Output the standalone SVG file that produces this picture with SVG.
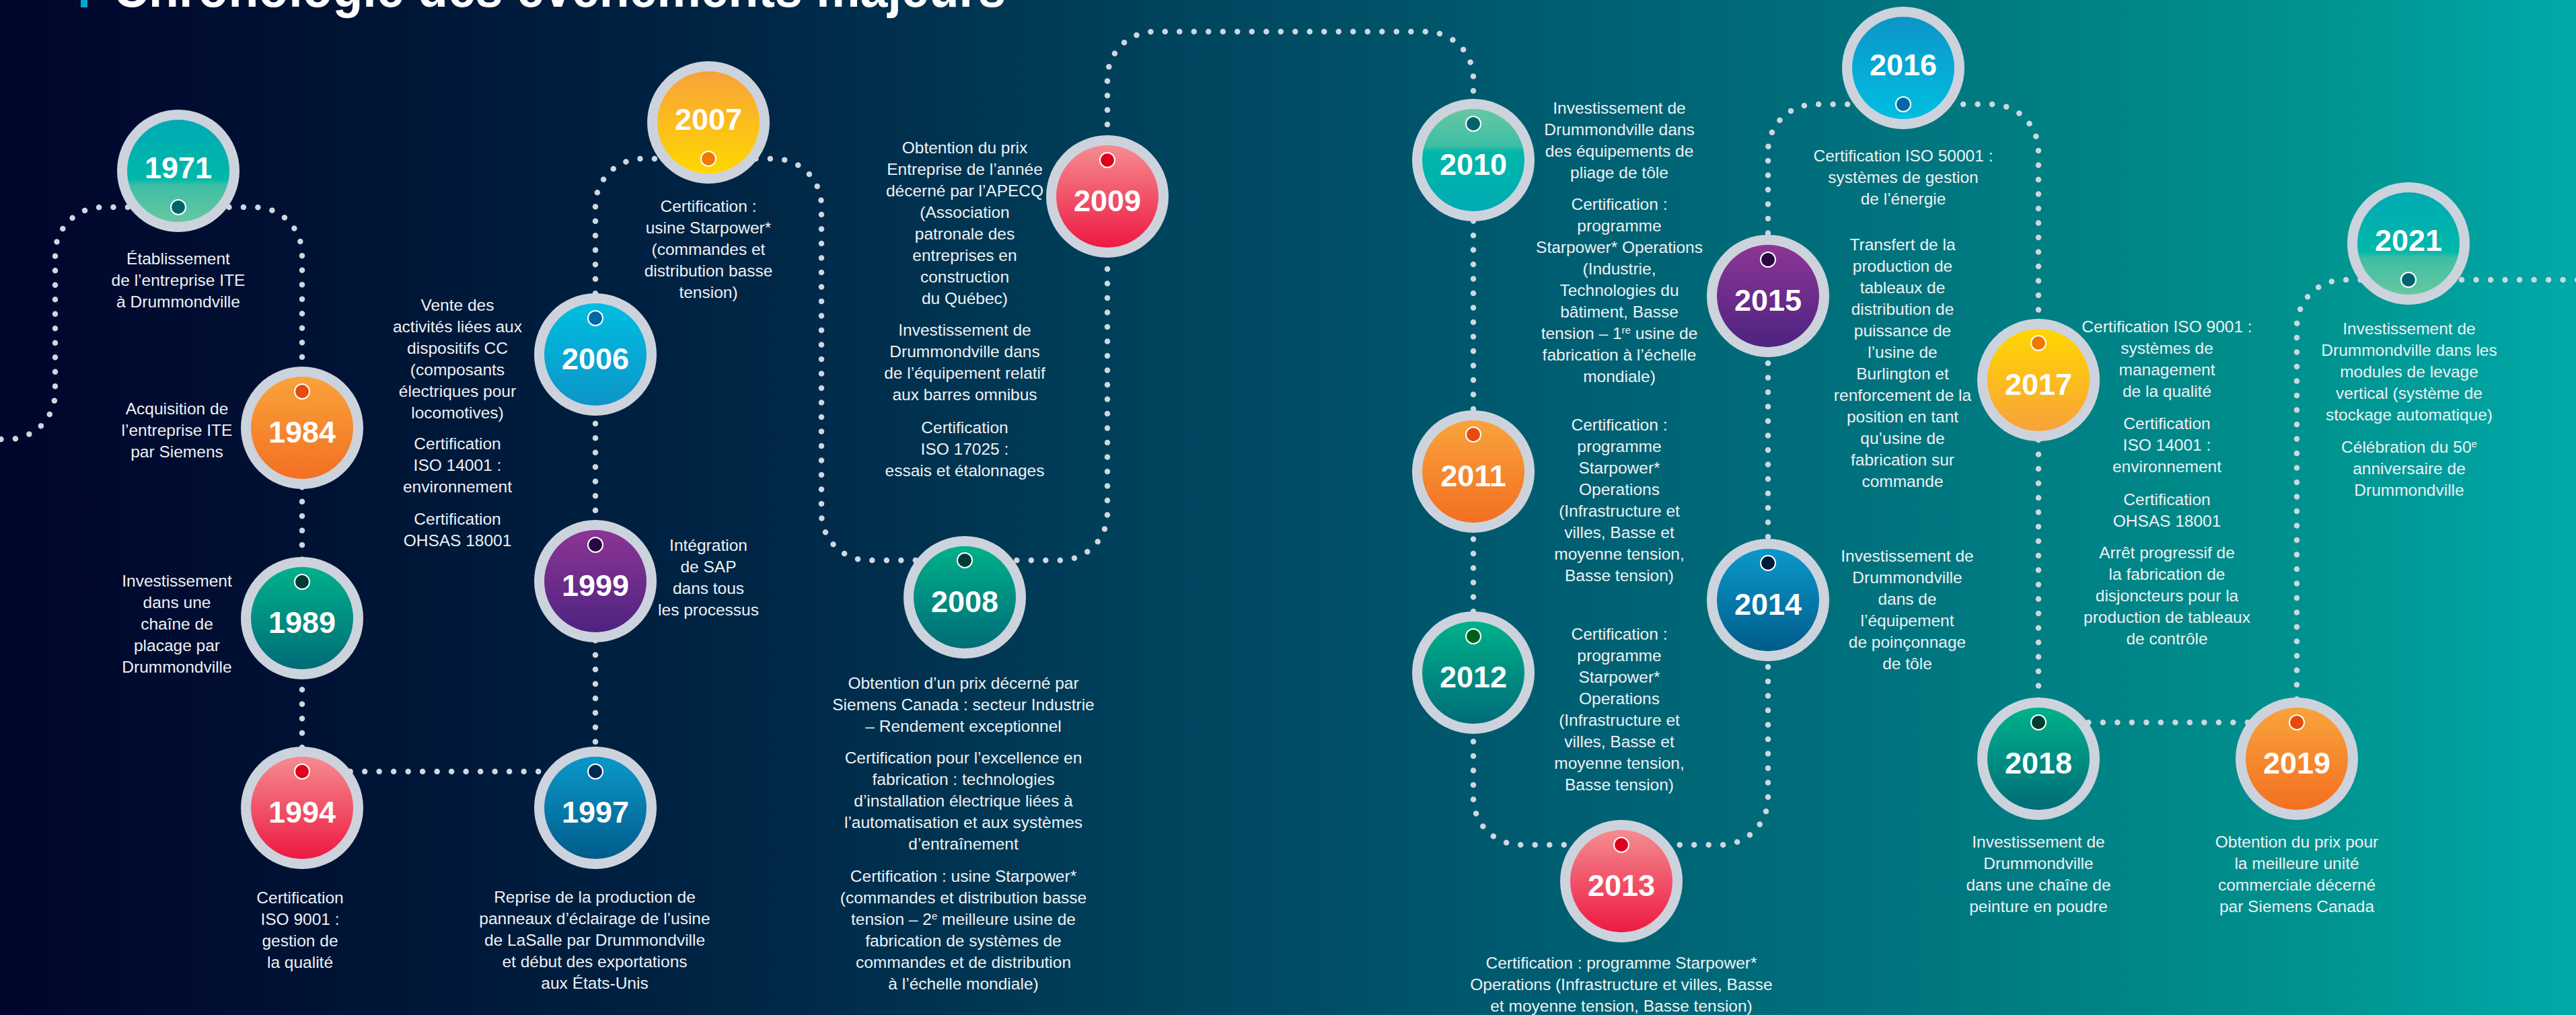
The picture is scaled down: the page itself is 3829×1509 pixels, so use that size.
<svg xmlns="http://www.w3.org/2000/svg" xmlns:xlink="http://www.w3.org/1999/xlink" width="3829" height="1509" viewBox="0 0 3829 1509">
  <defs>
    <linearGradient id="bg" x1="0" y1="0" x2="1" y2="0">
      <stop offset="0" stop-color="#00052b"/>
      <stop offset="0.15" stop-color="#001536"/>
      <stop offset="0.3" stop-color="#002747"/>
      <stop offset="0.45" stop-color="#00435d"/>
      <stop offset="0.6" stop-color="#005d71"/>
      <stop offset="0.75" stop-color="#00767f"/>
      <stop offset="0.9" stop-color="#00938f"/>
      <stop offset="1" stop-color="#00a9a9"/>
    </linearGradient>
    <!-- disc fills: offset 0 is the side carrying the marker dot -->
    <linearGradient id="gTeal" x1="0" y1="0" x2="0" y2="1">
      <stop offset="0" stop-color="#68c7a1"/>
      <stop offset="0.36" stop-color="#3dbea4"/>
      <stop offset="0.42" stop-color="#00b8a9"/>
      <stop offset="1" stop-color="#00aab4"/>
    </linearGradient>
    <linearGradient id="gTealR" xlink:href="#gTeal" x1="0" y1="1" x2="0" y2="0"/>
    <linearGradient id="gOrange" x1="0" y1="0" x2="0" y2="1">
      <stop offset="0" stop-color="#f9a33b"/>
      <stop offset="1" stop-color="#f36f22"/>
    </linearGradient>
    <linearGradient id="gGreen" x1="0" y1="0" x2="0" y2="1">
      <stop offset="0" stop-color="#00b18b"/>
      <stop offset="1" stop-color="#006c78"/>
    </linearGradient>
    <linearGradient id="gRed" x1="0" y1="0" x2="0" y2="1">
      <stop offset="0" stop-color="#f58c90"/>
      <stop offset="1" stop-color="#ed1942"/>
    </linearGradient>
    <linearGradient id="gBlue" x1="0" y1="0" x2="0" y2="1">
      <stop offset="0" stop-color="#0b98ca"/>
      <stop offset="1" stop-color="#005c8b"/>
    </linearGradient>
    <linearGradient id="gPurple" x1="0" y1="0" x2="0" y2="1">
      <stop offset="0" stop-color="#8d3595"/>
      <stop offset="1" stop-color="#4d2381"/>
    </linearGradient>
    <linearGradient id="gCyan" x1="0" y1="0" x2="0" y2="1">
      <stop offset="0" stop-color="#00bee1"/>
      <stop offset="1" stop-color="#0d95c8"/>
    </linearGradient>
    <linearGradient id="gCyanR" xlink:href="#gCyan" x1="0" y1="1" x2="0" y2="0"/>
    <linearGradient id="gYellow" x1="0" y1="0" x2="0" y2="1">
      <stop offset="0" stop-color="#ffd700"/>
      <stop offset="1" stop-color="#f8a23a"/>
    </linearGradient>
    <linearGradient id="gYellowR" xlink:href="#gYellow" x1="0" y1="1" x2="0" y2="0"/>
  </defs>
  <style>
    .ring { fill: #cdd3dd; }
    .mk { stroke: #ffffff; stroke-width: 2; }
    .yr { font-family: "Liberation Sans", Arial, sans-serif; font-weight: bold; font-size: 45px; fill: #ffffff; text-anchor: middle; }
    .lbl { font-family: "Liberation Sans", Arial, sans-serif; font-size: 24.5px; fill: #eef2f5; text-anchor: middle; }
    .sup { font-size: 15px; }
    .path { fill: none; stroke: #d0d6e0; stroke-width: 8.5; stroke-linecap: round; stroke-dasharray: 0 21.5; }
    .title { font-family: "Liberation Sans", Arial, sans-serif; font-weight: bold; font-size: 80px; fill: #ffffff; }
  </style>

  <rect x="0" y="0" width="3829" height="1509" fill="url(#bg)"/>

  <!-- heading -->
  <rect x="120" y="-40" width="10" height="51" fill="#00a9d4"/>
  <text class="title" x="168" y="10" textLength="1327" lengthAdjust="spacingAndGlyphs">Chronologie des événements majeurs</text>

  <!-- dotted timeline through every marker dot -->
  <g id="connectors">
    <path class="path" d="M -20 653 H 12 A 70 70 0 0 0 82 583 V 378 A 70 70 0 0 1 152 308 H 379 A 70 70 0 0 1 449 378 V 1147 H 885 V 306 A 70 70 0 0 1 955 236 H 1151 A 70 70 0 0 1 1221 306 V 763 A 70 70 0 0 0 1291 833 H 1576 A 70 70 0 0 0 1646 763 V 117 A 70 70 0 0 1 1716 47 H 2120 A 70 70 0 0 1 2190 117 V 1186 A 70 70 0 0 0 2260 1256 H 2558 A 70 70 0 0 0 2628 1186 V 225 A 70 70 0 0 1 2698 155 H 2960 A 70 70 0 0 1 3030 225 V 1074 H 3414 V 486 A 70 70 0 0 1 3484 416 H 3850"/>
  </g>

  <g id="n1971">
    <circle class="ring" cx="265" cy="254" r="91"/>
    <circle cx="265" cy="254" r="76" fill="url(#gTealR)"/>
    <circle class="mk" cx="265" cy="308" r="11" fill="#00636c"/>
    <text class="yr" x="265" y="265">1971</text>
    <text class="lbl"><tspan x="265" y="393">Établissement</tspan><tspan x="265" y="425">de l’entreprise ITE</tspan><tspan x="265" y="457">à Drummondville</tspan></text>
  </g>

  <g id="n1984">
    <circle class="ring" cx="449" cy="636" r="91"/>
    <circle cx="449" cy="636" r="76" fill="url(#gOrange)"/>
    <circle class="mk" cx="449" cy="582" r="11" fill="#e84a0c"/>
    <text class="yr" x="449" y="658">1984</text>
    <text class="lbl"><tspan x="263" y="616">Acquisition de</tspan><tspan x="263" y="648">l’entreprise ITE</tspan><tspan x="263" y="680">par Siemens</tspan></text>
  </g>

  <g id="n1989">
    <circle class="ring" cx="449" cy="919" r="91"/>
    <circle cx="449" cy="919" r="76" fill="url(#gGreen)"/>
    <circle class="mk" cx="449" cy="865" r="11" fill="#003c34"/>
    <text class="yr" x="449" y="941">1989</text>
    <text class="lbl"><tspan x="263" y="872">Investissement</tspan><tspan x="263" y="904">dans une</tspan><tspan x="263" y="936">chaîne de</tspan><tspan x="263" y="968">placage par</tspan><tspan x="263" y="1000">Drummondville</tspan></text>
  </g>

  <g id="n1994">
    <circle class="ring" cx="449" cy="1201" r="91"/>
    <circle cx="449" cy="1201" r="76" fill="url(#gRed)"/>
    <circle class="mk" cx="449" cy="1147" r="11" fill="#e0001b"/>
    <text class="yr" x="449" y="1223">1994</text>
    <text class="lbl"><tspan x="446" y="1343">Certification</tspan><tspan x="446" y="1375">ISO 9001 :</tspan><tspan x="446" y="1407">gestion de</tspan><tspan x="446" y="1439">la qualité</tspan></text>
  </g>

  <g id="n1997">
    <circle class="ring" cx="885" cy="1201" r="91"/>
    <circle cx="885" cy="1201" r="76" fill="url(#gBlue)"/>
    <circle class="mk" cx="885" cy="1147" r="11" fill="#002a56"/>
    <text class="yr" x="885" y="1223">1997</text>
    <text class="lbl"><tspan x="884" y="1342">Reprise de la production de</tspan><tspan x="884" y="1374">panneaux d’éclairage de l’usine</tspan><tspan x="884" y="1406">de LaSalle par Drummondville</tspan><tspan x="884" y="1438">et début des exportations</tspan><tspan x="884" y="1470">aux États-Unis</tspan></text>
  </g>

  <g id="n1999">
    <circle class="ring" cx="885" cy="864" r="91"/>
    <circle cx="885" cy="864" r="76" fill="url(#gPurple)"/>
    <circle class="mk" cx="885" cy="810" r="11" fill="#2a0743"/>
    <text class="yr" x="885" y="886">1999</text>
    <text class="lbl"><tspan x="1053" y="819">Intégration</tspan><tspan x="1053" y="851">de SAP</tspan><tspan x="1053" y="883">dans tous</tspan><tspan x="1053" y="915">les processus</tspan></text>
  </g>

  <g id="n2006">
    <circle class="ring" cx="885" cy="527" r="91"/>
    <circle cx="885" cy="527" r="76" fill="url(#gCyan)"/>
    <circle class="mk" cx="885" cy="473" r="11" fill="#0068a8"/>
    <text class="yr" x="885" y="549">2006</text>
    <text class="lbl"><tspan x="680" y="462">Vente des</tspan><tspan x="680" y="494">activités liées aux</tspan><tspan x="680" y="526">dispositifs CC</tspan><tspan x="680" y="558">(composants</tspan><tspan x="680" y="590">électriques pour</tspan><tspan x="680" y="622">locomotives)</tspan><tspan x="680" y="668">Certification</tspan><tspan x="680" y="700">ISO 14001 :</tspan><tspan x="680" y="732">environnement</tspan><tspan x="680" y="780">Certification</tspan><tspan x="680" y="812">OHSAS 18001</tspan></text>
  </g>

  <g id="n2007">
    <circle class="ring" cx="1053" cy="182" r="91"/>
    <circle cx="1053" cy="182" r="76" fill="url(#gYellowR)"/>
    <circle class="mk" cx="1053" cy="236" r="11" fill="#f07800"/>
    <text class="yr" x="1053" y="193">2007</text>
    <text class="lbl"><tspan x="1053" y="315">Certification :</tspan><tspan x="1053" y="347">usine Starpower*</tspan><tspan x="1053" y="379">(commandes et</tspan><tspan x="1053" y="411">distribution basse</tspan><tspan x="1053" y="443">tension)</tspan></text>
  </g>

  <g id="n2008">
    <circle class="ring" cx="1434" cy="888" r="91"/>
    <circle cx="1434" cy="888" r="76" fill="url(#gGreen)"/>
    <circle class="mk" cx="1434" cy="833" r="11" fill="#003c34"/>
    <text class="yr" x="1434" y="910">2008</text>
    <text class="lbl"><tspan x="1432" y="1024">Obtention d’un prix décerné par</tspan><tspan x="1432" y="1056">Siemens Canada : secteur Industrie</tspan><tspan x="1432" y="1088">– Rendement exceptionnel</tspan><tspan x="1432" y="1135">Certification pour l’excellence en</tspan><tspan x="1432" y="1167">fabrication : technologies</tspan><tspan x="1432" y="1199">d’installation électrique liées à</tspan><tspan x="1432" y="1231">l’automatisation et aux systèmes</tspan><tspan x="1432" y="1263">d’entraînement</tspan><tspan x="1432" y="1311">Certification : usine Starpower*</tspan><tspan x="1432" y="1343">(commandes et distribution basse</tspan><tspan x="1432" y="1375">tension – 2<tspan class="sup" baseline-shift="super">e</tspan> meilleure usine de</tspan><tspan x="1432" y="1407">fabrication de systèmes de</tspan><tspan x="1432" y="1439">commandes et de distribution</tspan><tspan x="1432" y="1471">à l’échelle mondiale)</tspan></text>
  </g>

  <g id="n2009">
    <circle class="ring" cx="1646" cy="292" r="91"/>
    <circle cx="1646" cy="292" r="76" fill="url(#gRed)"/>
    <circle class="mk" cx="1646" cy="238" r="11" fill="#e0001b"/>
    <text class="yr" x="1646" y="314">2009</text>
    <text class="lbl"><tspan x="1434" y="228">Obtention du prix</tspan><tspan x="1434" y="260">Entreprise de l’année</tspan><tspan x="1434" y="292">décerné par l’APECQ</tspan><tspan x="1434" y="324">(Association</tspan><tspan x="1434" y="356">patronale des</tspan><tspan x="1434" y="388">entreprises en</tspan><tspan x="1434" y="420">construction</tspan><tspan x="1434" y="452">du Québec)</tspan><tspan x="1434" y="499">Investissement de</tspan><tspan x="1434" y="531">Drummondville dans</tspan><tspan x="1434" y="563">de l’équipement relatif</tspan><tspan x="1434" y="595">aux barres omnibus</tspan><tspan x="1434" y="644">Certification</tspan><tspan x="1434" y="676">ISO 17025 :</tspan><tspan x="1434" y="708">essais et étalonnages</tspan></text>
  </g>

  <g id="n2010">
    <circle class="ring" cx="2190" cy="238" r="91"/>
    <circle cx="2190" cy="238" r="76" fill="url(#gTeal)"/>
    <circle class="mk" cx="2190" cy="184" r="11" fill="#00656d"/>
    <text class="yr" x="2190" y="260">2010</text>
    <text class="lbl"><tspan x="2407" y="169">Investissement de</tspan><tspan x="2407" y="201">Drummondville dans</tspan><tspan x="2407" y="233">des équipements de</tspan><tspan x="2407" y="265">pliage de tôle</tspan><tspan x="2407" y="312">Certification :</tspan><tspan x="2407" y="344">programme</tspan><tspan x="2407" y="376">Starpower* Operations</tspan><tspan x="2407" y="408">(Industrie,</tspan><tspan x="2407" y="440">Technologies du</tspan><tspan x="2407" y="472">bâtiment, Basse</tspan><tspan x="2407" y="504">tension – 1<tspan class="sup" baseline-shift="super">re</tspan> usine de</tspan><tspan x="2407" y="536">fabrication à l’échelle</tspan><tspan x="2407" y="568">mondiale)</tspan></text>
  </g>

  <g id="n2011">
    <circle class="ring" cx="2190" cy="701" r="91"/>
    <circle cx="2190" cy="701" r="76" fill="url(#gOrange)"/>
    <circle class="mk" cx="2190" cy="646" r="11" fill="#e84a0c"/>
    <text class="yr" x="2190" y="723">2011</text>
    <text class="lbl"><tspan x="2407" y="640">Certification :</tspan><tspan x="2407" y="672">programme</tspan><tspan x="2407" y="704">Starpower*</tspan><tspan x="2407" y="736">Operations</tspan><tspan x="2407" y="768">(Infrastructure et</tspan><tspan x="2407" y="800">villes, Basse et</tspan><tspan x="2407" y="832">moyenne tension,</tspan><tspan x="2407" y="864">Basse tension)</tspan></text>
  </g>

  <g id="n2012">
    <circle class="ring" cx="2190" cy="1000" r="91"/>
    <circle cx="2190" cy="1000" r="76" fill="url(#gGreen)"/>
    <circle class="mk" cx="2190" cy="946" r="11" fill="#005f1e"/>
    <text class="yr" x="2190" y="1022">2012</text>
    <text class="lbl"><tspan x="2407" y="951">Certification :</tspan><tspan x="2407" y="983">programme</tspan><tspan x="2407" y="1015">Starpower*</tspan><tspan x="2407" y="1047">Operations</tspan><tspan x="2407" y="1079">(Infrastructure et</tspan><tspan x="2407" y="1111">villes, Basse et</tspan><tspan x="2407" y="1143">moyenne tension,</tspan><tspan x="2407" y="1175">Basse tension)</tspan></text>
  </g>

  <g id="n2013">
    <circle class="ring" cx="2410" cy="1310" r="91"/>
    <circle cx="2410" cy="1310" r="76" fill="url(#gRed)"/>
    <circle class="mk" cx="2410" cy="1256" r="11" fill="#e0001b"/>
    <text class="yr" x="2410" y="1332">2013</text>
    <text class="lbl"><tspan x="2410" y="1440">Certification : programme Starpower*</tspan><tspan x="2410" y="1472">Operations (Infrastructure et villes, Basse</tspan><tspan x="2410" y="1504">et moyenne tension, Basse tension)</tspan></text>
  </g>

  <g id="n2014">
    <circle class="ring" cx="2628" cy="892" r="91"/>
    <circle cx="2628" cy="892" r="76" fill="url(#gBlue)"/>
    <circle class="mk" cx="2628" cy="837" r="11" fill="#001a3c"/>
    <text class="yr" x="2628" y="914">2014</text>
    <text class="lbl"><tspan x="2835" y="835">Investissement de</tspan><tspan x="2835" y="867">Drummondville</tspan><tspan x="2835" y="899">dans de</tspan><tspan x="2835" y="931">l’équipement</tspan><tspan x="2835" y="963">de poinçonnage</tspan><tspan x="2835" y="995">de tôle</tspan></text>
  </g>

  <g id="n2015">
    <circle class="ring" cx="2628" cy="440" r="91"/>
    <circle cx="2628" cy="440" r="76" fill="url(#gPurple)"/>
    <circle class="mk" cx="2628" cy="386" r="11" fill="#2a0743"/>
    <text class="yr" x="2628" y="462">2015</text>
    <text class="lbl"><tspan x="2828" y="372">Transfert de la</tspan><tspan x="2828" y="404">production de</tspan><tspan x="2828" y="436">tableaux de</tspan><tspan x="2828" y="468">distribution de</tspan><tspan x="2828" y="500">puissance de</tspan><tspan x="2828" y="532">l’usine de</tspan><tspan x="2828" y="564">Burlington et</tspan><tspan x="2828" y="596">renforcement de la</tspan><tspan x="2828" y="628">position en tant</tspan><tspan x="2828" y="660">qu’usine de</tspan><tspan x="2828" y="692">fabrication sur</tspan><tspan x="2828" y="724">commande</tspan></text>
  </g>

  <g id="n2016">
    <circle class="ring" cx="2829" cy="101" r="91"/>
    <circle cx="2829" cy="101" r="76" fill="url(#gCyanR)"/>
    <circle class="mk" cx="2829" cy="155" r="11" fill="#0068a8"/>
    <text class="yr" x="2829" y="112">2016</text>
    <text class="lbl"><tspan x="2829" y="240">Certification ISO 50001 :</tspan><tspan x="2829" y="272">systèmes de gestion</tspan><tspan x="2829" y="304">de l’énergie</tspan></text>
  </g>

  <g id="n2017">
    <circle class="ring" cx="3030" cy="565" r="91"/>
    <circle cx="3030" cy="565" r="76" fill="url(#gYellow)"/>
    <circle class="mk" cx="3030" cy="510" r="11" fill="#f07800"/>
    <text class="yr" x="3030" y="587">2017</text>
    <text class="lbl"><tspan x="3221" y="494">Certification ISO 9001 :</tspan><tspan x="3221" y="526">systèmes de</tspan><tspan x="3221" y="558">management</tspan><tspan x="3221" y="590">de la qualité</tspan><tspan x="3221" y="638">Certification</tspan><tspan x="3221" y="670">ISO 14001 :</tspan><tspan x="3221" y="702">environnement</tspan><tspan x="3221" y="751">Certification</tspan><tspan x="3221" y="783">OHSAS 18001</tspan><tspan x="3221" y="830">Arrêt progressif de</tspan><tspan x="3221" y="862">la fabrication de</tspan><tspan x="3221" y="894">disjoncteurs pour la</tspan><tspan x="3221" y="926">production de tableaux</tspan><tspan x="3221" y="958">de contrôle</tspan></text>
  </g>

  <g id="n2018">
    <circle class="ring" cx="3030" cy="1128" r="91"/>
    <circle cx="3030" cy="1128" r="76" fill="url(#gGreen)"/>
    <circle class="mk" cx="3030" cy="1074" r="11" fill="#003f30"/>
    <text class="yr" x="3030" y="1150">2018</text>
    <text class="lbl"><tspan x="3030" y="1260">Investissement de</tspan><tspan x="3030" y="1292">Drummondville</tspan><tspan x="3030" y="1324">dans une chaîne de</tspan><tspan x="3030" y="1356">peinture en poudre</tspan></text>
  </g>

  <g id="n2019">
    <circle class="ring" cx="3414" cy="1128" r="91"/>
    <circle cx="3414" cy="1128" r="76" fill="url(#gOrange)"/>
    <circle class="mk" cx="3414" cy="1074" r="11" fill="#e84a0c"/>
    <text class="yr" x="3414" y="1150">2019</text>
    <text class="lbl"><tspan x="3414" y="1260">Obtention du prix pour</tspan><tspan x="3414" y="1292">la meilleure unité</tspan><tspan x="3414" y="1324">commerciale décerné</tspan><tspan x="3414" y="1356">par Siemens Canada</tspan></text>
  </g>

  <g id="n2021">
    <circle class="ring" cx="3580" cy="362" r="91"/>
    <circle cx="3580" cy="362" r="76" fill="url(#gTealR)"/>
    <circle class="mk" cx="3580" cy="416" r="11" fill="#00636c"/>
    <text class="yr" x="3580" y="373">2021</text>
    <text class="lbl"><tspan x="3581" y="497">Investissement de</tspan><tspan x="3581" y="529">Drummondville dans les</tspan><tspan x="3581" y="561">modules de levage</tspan><tspan x="3581" y="593">vertical (système de</tspan><tspan x="3581" y="625">stockage automatique)</tspan><tspan x="3581" y="673">Célébration du 50<tspan class="sup" baseline-shift="super">e</tspan></tspan><tspan x="3581" y="705">anniversaire de</tspan><tspan x="3581" y="737">Drummondville</tspan></text>
  </g>
</svg>
